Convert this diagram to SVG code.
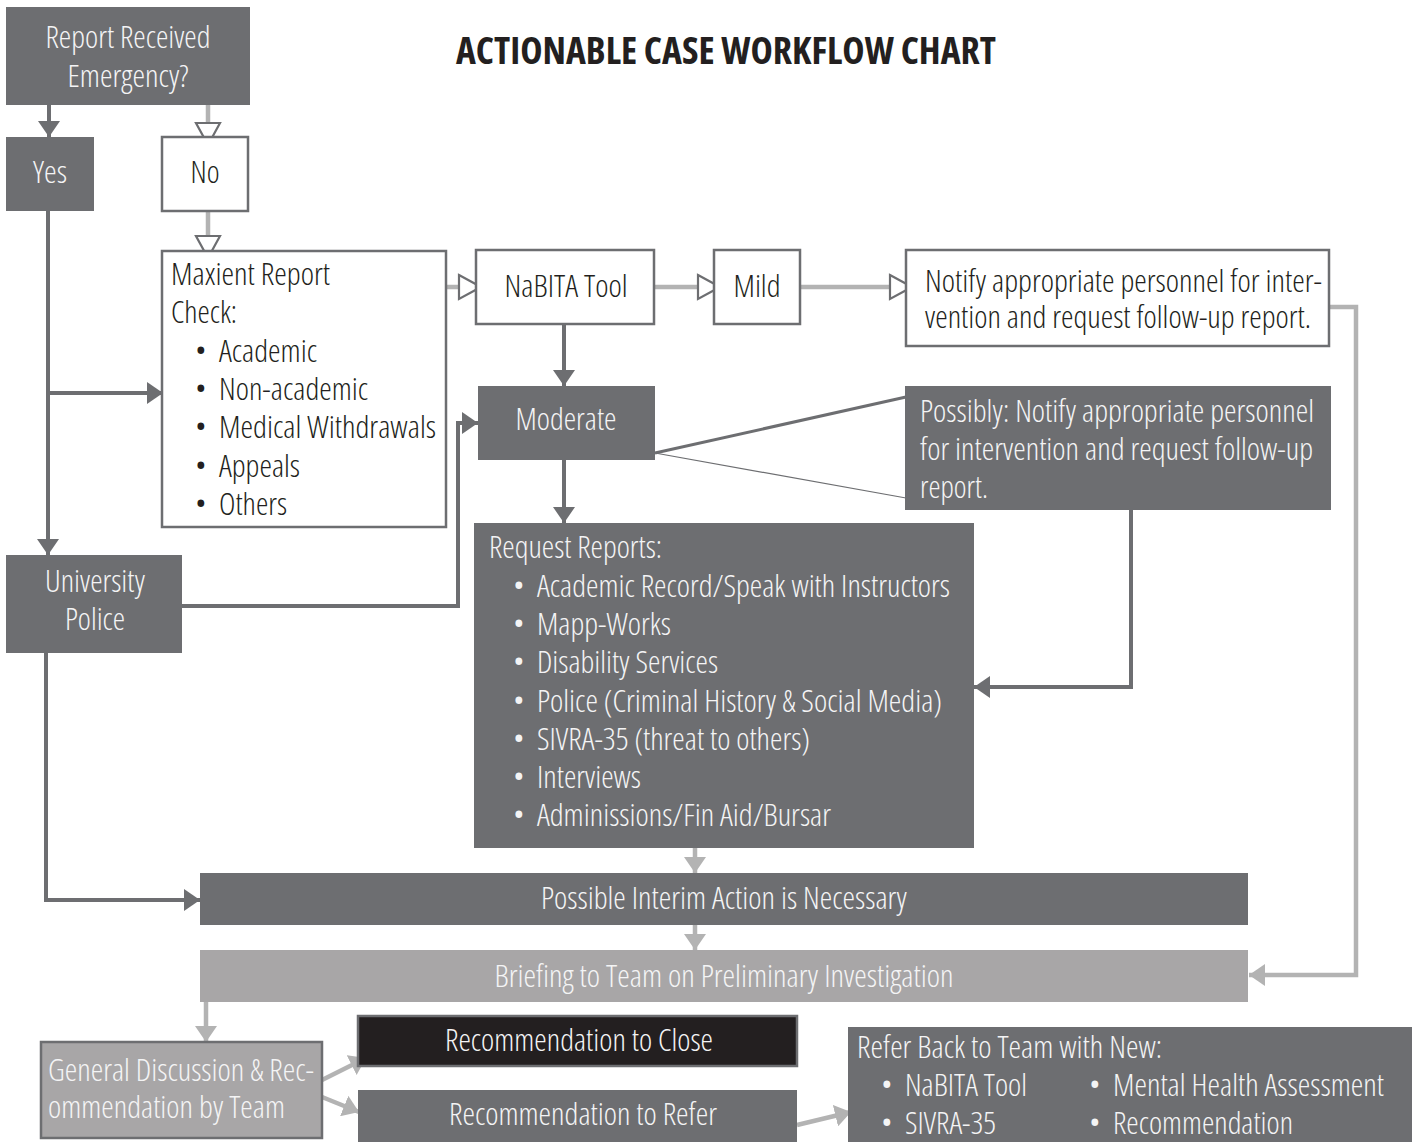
<svg xmlns="http://www.w3.org/2000/svg" width="1412" height="1142" viewBox="0 0 1412 1142">
<style>
text{font-family:"Open Sans","Liberation Sans",sans-serif;font-weight:300;font-size:32px;font-stretch:condensed}
.w{fill:#f4f4f5}
.k{fill:#231f20}
.c{text-anchor:middle}
.title{font-weight:700;font-size:37px;fill:#231f20}
.dbox{fill:#6d6e71}
.wbox{fill:#fff;stroke:#6d6e71;stroke-width:2.5}
.lbox{fill:#a8a6a7}
.dl{fill:none;stroke:#6d6e71;stroke-width:4}
.ll{fill:none;stroke:#b3b3b3;stroke-width:4.5}
</style>
<defs>
<marker id="ad" markerUnits="userSpaceOnUse" viewBox="0 0 16 22" markerWidth="16" markerHeight="22" refX="16" refY="11" orient="auto"><path d="M0,0 L16,11 L0,22 z" fill="#6d6e71"/></marker>
<marker id="al" markerUnits="userSpaceOnUse" viewBox="0 0 16 22" markerWidth="16" markerHeight="22" refX="16" refY="11" orient="auto"><path d="M0,0 L16,11 L0,22 z" fill="#b3b3b3"/></marker>
<marker id="ah" markerUnits="userSpaceOnUse" viewBox="0 0 26 28" markerWidth="26" markerHeight="28" refX="24" refY="14" orient="auto"><path d="M2,2 L24,14 L2,26 z" fill="#fff" stroke="#6d6e71" stroke-width="2.2"/></marker>
</defs>
<rect width="1412" height="1142" fill="#fff"/>
<text class="title" x="456" y="64" textLength="540" lengthAdjust="spacingAndGlyphs">ACTIONABLE CASE WORKFLOW CHART</text>

<g id="connectors">
<path class="dl" d="M49,105 V137" marker-end="url(#ad)"/>
<path class="dl" d="M48,211 V555" marker-end="url(#ad)"/>
<path class="dl" d="M48,393 H163" marker-end="url(#ad)"/>
<path class="dl" d="M182,606 H458 V423 H478" marker-end="url(#ad)"/>
<path class="dl" d="M46,653 V900 H200" marker-end="url(#ad)"/>
<path class="dl" d="M564,324 V386" marker-end="url(#ad)"/>
<path class="dl" d="M564,460 V523" marker-end="url(#ad)"/>
<path class="dl" d="M1131,510 V687 H974" marker-end="url(#ad)"/>
<path d="M655,453 L906,397" fill="none" stroke="#6d6e71" stroke-width="3"/>
<path d="M655,453 L906,498" fill="none" stroke="#6d6e71" stroke-width="1.2"/>
<path class="ll" d="M208,105 V145" marker-end="url(#ah)"/>
<path class="ll" d="M208,211 V258" marker-end="url(#ah)"/>
<path class="ll" d="M446,287 H481" marker-end="url(#ah)"/>
<path class="ll" d="M654,287 H720" marker-end="url(#ah)"/>
<path class="ll" d="M800,287 H912" marker-end="url(#ah)"/>
<path class="ll" d="M1329,307 H1356 V975 H1249" marker-end="url(#al)"/>
<path class="ll" d="M695,848 V873" marker-end="url(#al)"/>
<path class="ll" d="M695,925 V950" marker-end="url(#al)"/>
<path class="ll" d="M206,1002 V1042" marker-end="url(#al)"/>
<path class="ll" d="M322,1080 L366,1058" marker-end="url(#al)"/>
<path class="ll" d="M322,1097 L359,1112" marker-end="url(#al)"/>
<path class="ll" d="M797,1125 L851,1112" marker-end="url(#al)"/>
</g>

<g id="report-received">
<rect class="dbox" x="6" y="7" width="244" height="98"/>
<text class="w c" x="128" y="48" textLength="165" lengthAdjust="spacingAndGlyphs">Report Received</text>
<text class="w c" x="128" y="87" textLength="121" lengthAdjust="spacingAndGlyphs">Emergency?</text>
</g>
<g id="yes">
<rect class="dbox" x="6" y="137" width="88" height="74"/>
<text class="w c" x="50" y="183" textLength="34" lengthAdjust="spacingAndGlyphs">Yes</text>
</g>
<g id="no">
<rect class="wbox" x="162" y="137" width="86" height="74"/>
<text class="k c" x="205" y="183" textLength="29" lengthAdjust="spacingAndGlyphs">No</text>
</g>
<g id="maxient">
<rect class="wbox" x="162" y="251" width="284" height="276"/>
<text class="k" x="171" y="285" textLength="159" lengthAdjust="spacingAndGlyphs">Maxient Report</text>
<text class="k" x="171" y="323" textLength="66" lengthAdjust="spacingAndGlyphs">Check:</text>
<text class="k" x="195" y="362">•</text><text class="k" x="219" y="362" textLength="98" lengthAdjust="spacingAndGlyphs">Academic</text>
<text class="k" x="195" y="400">•</text><text class="k" x="219" y="400" textLength="149" lengthAdjust="spacingAndGlyphs">Non-academic</text>
<text class="k" x="195" y="438">•</text><text class="k" x="219" y="438" textLength="217" lengthAdjust="spacingAndGlyphs">Medical Withdrawals</text>
<text class="k" x="195" y="477">•</text><text class="k" x="219" y="477" textLength="81" lengthAdjust="spacingAndGlyphs">Appeals</text>
<text class="k" x="195" y="515">•</text><text class="k" x="219" y="515" textLength="68" lengthAdjust="spacingAndGlyphs">Others</text>
</g>
<g id="nabita">
<rect class="wbox" x="476" y="250" width="178" height="74"/>
<text class="k c" x="566" y="297" textLength="123" lengthAdjust="spacingAndGlyphs">NaBITA Tool</text>
</g>
<g id="mild">
<rect class="wbox" x="714" y="250" width="86" height="74"/>
<text class="k c" x="757" y="297" textLength="47" lengthAdjust="spacingAndGlyphs">Mild</text>
</g>
<g id="notify">
<rect class="wbox" x="906" y="250" width="423" height="96"/>
<text class="k" x="925" y="292" textLength="397" lengthAdjust="spacingAndGlyphs">Notify appropriate personnel for inter-</text>
<text class="k" x="925" y="328" textLength="386" lengthAdjust="spacingAndGlyphs">vention and request follow-up report.</text>
</g>
<g id="moderate">
<rect class="dbox" x="478" y="386" width="177" height="74"/>
<text class="w c" x="566" y="430" textLength="101" lengthAdjust="spacingAndGlyphs">Moderate</text>
</g>
<g id="possibly">
<rect class="dbox" x="905" y="386" width="426" height="124"/>
<text class="w" x="920" y="422" textLength="394" lengthAdjust="spacingAndGlyphs">Possibly: Notify appropriate personnel</text>
<text class="w" x="920" y="460" textLength="393" lengthAdjust="spacingAndGlyphs">for intervention and request follow-up</text>
<text class="w" x="920" y="498" textLength="68" lengthAdjust="spacingAndGlyphs">report.</text>
</g>
<g id="university-police">
<rect class="dbox" x="6" y="555" width="176" height="98"/>
<text class="w c" x="95" y="592" textLength="100" lengthAdjust="spacingAndGlyphs">University</text>
<text class="w c" x="95" y="630" textLength="60" lengthAdjust="spacingAndGlyphs">Police</text>
</g>
<g id="request-reports">
<rect class="dbox" x="474" y="523" width="500" height="325"/>
<text class="w" x="489" y="558" textLength="173" lengthAdjust="spacingAndGlyphs">Request Reports:</text>
<text class="w" x="513" y="597">•</text><text class="w" x="537" y="597" textLength="413" lengthAdjust="spacingAndGlyphs">Academic Record/Speak with Instructors</text>
<text class="w" x="513" y="635">•</text><text class="w" x="537" y="635" textLength="134" lengthAdjust="spacingAndGlyphs">Mapp-Works</text>
<text class="w" x="513" y="673">•</text><text class="w" x="537" y="673" textLength="181" lengthAdjust="spacingAndGlyphs">Disability Services</text>
<text class="w" x="513" y="712">•</text><text class="w" x="537" y="712" textLength="405" lengthAdjust="spacingAndGlyphs">Police (Criminal History &amp; Social Media)</text>
<text class="w" x="513" y="750">•</text><text class="w" x="537" y="750" textLength="273" lengthAdjust="spacingAndGlyphs">SIVRA-35 (threat to others)</text>
<text class="w" x="513" y="788">•</text><text class="w" x="537" y="788" textLength="104" lengthAdjust="spacingAndGlyphs">Interviews</text>
<text class="w" x="513" y="826">•</text><text class="w" x="537" y="826" textLength="294" lengthAdjust="spacingAndGlyphs">Adminissions/Fin Aid/Bursar</text>
</g>
<g id="interim">
<rect class="dbox" x="200" y="873" width="1048" height="52"/>
<text class="w c" x="724" y="909" textLength="366" lengthAdjust="spacingAndGlyphs">Possible Interim Action is Necessary</text>
</g>
<g id="briefing">
<rect class="lbox" x="200" y="950" width="1048" height="52"/>
<text class="w c" x="724" y="987" textLength="459" lengthAdjust="spacingAndGlyphs">Briefing to Team on Preliminary Investigation</text>
</g>
<g id="general-discussion">
<rect class="lbox" x="41" y="1042" width="281" height="96" stroke="#6d6e71" stroke-width="2.5"/>
<text class="w" x="48" y="1081" textLength="266" lengthAdjust="spacingAndGlyphs">General Discussion &amp; Rec-</text>
<text class="w" x="48" y="1118" textLength="237" lengthAdjust="spacingAndGlyphs">ommendation by Team</text>
</g>
<g id="rec-close">
<rect x="358" y="1016" width="439" height="50" fill="#231f20" stroke="#6d6e71" stroke-width="2.5"/>
<text class="w c" x="579" y="1051" textLength="268" lengthAdjust="spacingAndGlyphs">Recommendation to Close</text>
</g>
<g id="rec-refer">
<rect class="dbox" x="358" y="1090" width="439" height="54"/>
<text class="w c" x="583" y="1125" textLength="268" lengthAdjust="spacingAndGlyphs">Recommendation to Refer</text>
</g>
<g id="refer-back">
<rect class="dbox" x="848" y="1027" width="566" height="117"/>
<text class="w" x="857" y="1058" textLength="305" lengthAdjust="spacingAndGlyphs">Refer Back to Team with New:</text>
<text class="w" x="881" y="1096">•</text><text class="w" x="905" y="1096" textLength="122" lengthAdjust="spacingAndGlyphs">NaBITA Tool</text>
<text class="w" x="881" y="1134">•</text><text class="w" x="905" y="1134" textLength="91" lengthAdjust="spacingAndGlyphs">SIVRA-35</text>
<text class="w" x="1089" y="1096">•</text><text class="w" x="1113" y="1096" textLength="271" lengthAdjust="spacingAndGlyphs">Mental Health Assessment</text>
<text class="w" x="1089" y="1134">•</text><text class="w" x="1113" y="1134" textLength="180" lengthAdjust="spacingAndGlyphs">Recommendation</text>
</g>
</svg>
